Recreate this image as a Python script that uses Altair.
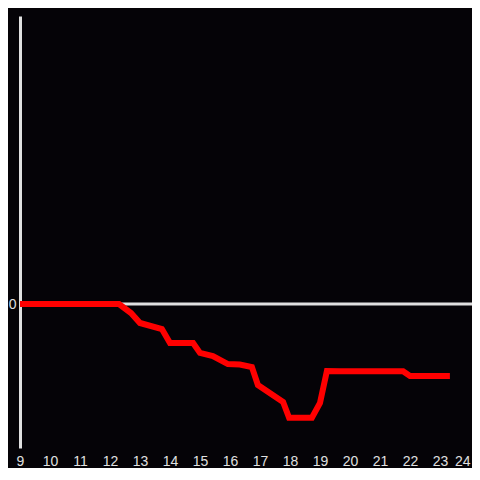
import altair as alt
import pandas as pd

hours = [9.0, 12.3, 12.7, 13.0, 13.73, 14.0, 14.77, 15.0, 15.43, 15.93, 16.33, 16.73, 16.93, 17.77, 17.97, 18.73, 19.0, 19.23, 19.67, 21.77, 22.0, 23.33]
values = [0.0, 0.0, -0.0625, -0.132, -0.174, -0.271, -0.271, -0.34, -0.361, -0.417, -0.42, -0.4375, -0.5625, -0.68, -0.79, -0.79, -0.6875, -0.465, -0.467, -0.467, -0.5, -0.5]
x_ticks = list(range(9, 25))
y_ticks = [0]

df = pd.DataFrame({"hour": hours, "value": values})

W, H = 450, 432
BG = "#050307"
GRAY = "#e0e0e0"

xs = alt.Scale(domain=[9, 24], nice=False, zero=False)
ys = alt.Scale(domain=[-1, 2], nice=False, zero=False)

yaxis = alt.Axis(values=y_ticks, title=None, domain=True, domainColor=GRAY,
                 domainWidth=3, ticks=False, grid=False,
                 labelColor=GRAY, labelFontSize=14, labelPadding=4,
                 labelFont="Liberation Sans")
xaxis = alt.Axis(values=x_ticks, title=None, domain=False, ticks=False,
                 grid=False, labelColor=GRAY, labelFontSize=14,
                 labelPadding=6, labelFont="Liberation Sans",
                 labelFlush=False, labelOverlap=False,
                 labelAlign=alt.expr("datum.value == 24 ? 'right' : 'center'"))

zero_rule = alt.Chart(pd.DataFrame({"y": [0]})).mark_rule(color=GRAY, strokeWidth=3).encode(
    y=alt.Y("y:Q", scale=ys, axis=yaxis),
    x=alt.value(0),
    x2=alt.value(W + 30),
)

line = alt.Chart(df).mark_line(color="#ff0000", strokeWidth=6, strokeJoin="miter").encode(
    x=alt.X("hour:Q", scale=xs, axis=xaxis),
    y=alt.Y("value:Q", scale=ys, axis=yaxis),
)

chart = alt.layer(zero_rule, line).properties(
    width=W, height=H,
    autosize=alt.AutoSizeParams(type="none"),
    padding={"left": 12, "top": 8, "right": 2, "bottom": 20},
    background=BG,
).configure_view(stroke=None)

chart.save("out.html", embed_options={"renderer": "svg", "actions": False})
